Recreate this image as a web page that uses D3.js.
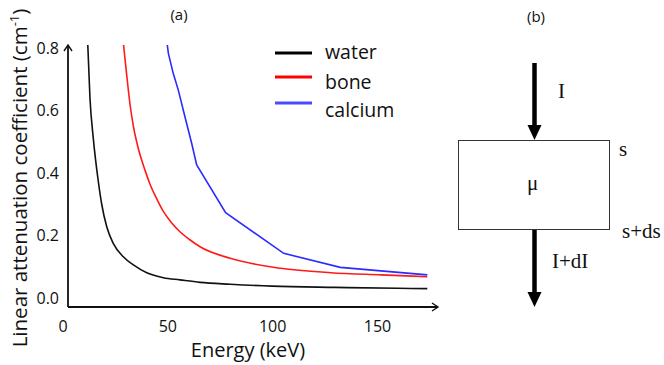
<!DOCTYPE html>
<html>
<head>
<meta charset="utf-8">
<script src="https://cdn.jsdelivr.net/npm/d3@7"></script>
<style>
    body { margin: 0; background: #fff; }
    svg { display: block; }
</style>
</head>
<body>
<svg id="chart" width="664" height="365"></svg>
<script>
// energy (keV) / linear attenuation (cm^-1)
var waterEnergy = [12.0, 13.1, 14.7, 17.1, 18.7, 21.1, 24.2, 29.0, 33.8, 40.2, 48.1, 56, 65.6, 80, 100, 130, 160, 174];
var waterMu = [0.82, 0.64, 0.51, 0.372, 0.30, 0.228, 0.175, 0.132, 0.106, 0.081, 0.065, 0.058, 0.050, 0.044, 0.038, 0.034, 0.031, 0.030];

var boneEnergy = [28.8, 30.6, 32.2, 33.8, 36.1, 39.3, 41.7, 44.9, 48.1, 52.1, 56, 60.4, 65.6, 80, 104, 128, 152, 174];
var boneMu = [0.83, 0.715, 0.62, 0.55, 0.48, 0.41, 0.365, 0.318, 0.277, 0.240, 0.212, 0.188, 0.164, 0.127, 0.095, 0.081, 0.074, 0.068];

var calciumEnergy = [49.6, 50.5, 52.8, 55.2, 58.4, 61.6, 64, 77.8, 105.5, 132.5, 174];
var calciumMu = [0.83, 0.783, 0.719, 0.666, 0.58, 0.495, 0.426, 0.273, 0.143, 0.098, 0.074];

var xTicks = [0, 50, 100, 150];
var yTicks = [0.0, 0.2, 0.4, 0.6, 0.8];
var seriesNames = ['water', 'bone', 'calcium'];

var series = [
    {name: seriesNames[0], color: '#111', legendColor: '#000', energy: waterEnergy, mu: waterMu, curve: d3.curveMonotoneX},
    {name: seriesNames[1], color: '#ff1a1a', legendColor: '#ff0000', energy: boneEnergy, mu: boneMu, curve: d3.curveMonotoneX},
    {name: seriesNames[2], color: '#2b2bff', legendColor: '#4a4aff', energy: calciumEnergy, mu: calciumMu, curve: d3.curveLinear}
];

var svg = d3.select('#chart');
var sans = '"Open Sans", sans-serif';
var serif = '"Liberation Serif", "Times New Roman", serif';

var x = d3.scaleLinear().domain([0, 150]).range([62.5, 377]);
var y = d3.scaleLinear().domain([0, 0.8]).range([298, 48]);

var axisLeftX = 68, axisBottomY = 307, axisTopY = 45, axisRightX = 438;

// clip so the steep starts get cut at the arrow height
svg.append('defs').append('clipPath').attr('id', 'plot-clip')
    .append('rect')
    .attr('x', axisLeftX).attr('y', axisTopY)
    .attr('width', axisRightX - axisLeftX).attr('height', axisBottomY - axisTopY);

// tick labels only, the axis lines are drawn by hand with arrows
var yAxis = svg.append('g')
    .attr('transform', 'translate(59,0)')
    .call(d3.axisLeft(y).tickValues(yTicks).tickSize(0).tickPadding(0)
        .tickFormat(d3.format('.1f')));
yAxis.select('.domain').remove();
yAxis.selectAll('text')
    .attr('font-family', sans).attr('font-size', 16).attr('fill', '#111');

var xAxis = svg.append('g')
    .attr('transform', 'translate(0,' + 321 + ')')
    .call(d3.axisBottom(x).tickValues(xTicks).tickSize(0).tickPadding(0));
xAxis.select('.domain').remove();
xAxis.selectAll('text')
    .attr('font-family', sans).attr('font-size', 16).attr('fill', '#111');

var axisLines = svg.append('g')
    .attr('stroke', '#111').attr('stroke-width', 1.8).attr('fill', 'none');
axisLines.append('path')
    .attr('d', 'M' + axisLeftX + ',' + axisBottomY + 'V' + axisTopY);
axisLines.append('path')
    .attr('d', 'M' + (axisLeftX - 4) + ',' + (axisTopY + 6) + 'L' + axisLeftX + ',' + axisTopY +
        'L' + (axisLeftX + 4) + ',' + (axisTopY + 6))
    .attr('stroke-width', 1.4);
axisLines.append('path')
    .attr('d', 'M' + axisLeftX + ',' + axisBottomY + 'H' + axisRightX);
axisLines.append('path')
    .attr('d', 'M' + (axisRightX - 6) + ',' + (axisBottomY - 4) + 'L' + axisRightX + ',' + axisBottomY +
        'L' + (axisRightX - 6) + ',' + (axisBottomY + 4))
    .attr('stroke-width', 1.4);

// curves
var line = d3.line()
    .x(function(d) { return x(d[0]); })
    .y(function(d) { return y(d[1]); });

svg.append('g')
    .attr('clip-path', 'url(#plot-clip)')
    .selectAll('path')
    .data(series)
    .enter().append('path')
    .attr('fill', 'none')
    .attr('stroke', function(s) { return s.color; })
    .attr('stroke-width', 1.6)
    .attr('d', function(s) {
        var pts = s.energy.map(function(e, i) { return [e, s.mu[i]]; });
        return line.curve(s.curve)(pts);
    });

// legend
var legend = svg.append('g');
var legendY = [53, 77, 103];
var legendTextY = [59, 89, 117];
series.forEach(function(s, i) {
    legend.append('line')
        .attr('x1', 275).attr('x2', 312)
        .attr('y1', legendY[i]).attr('y2', legendY[i])
        .attr('stroke', s.legendColor).attr('stroke-width', 3);
    legend.append('text')
        .attr('x', 325).attr('y', legendTextY[i])
        .attr('font-family', sans).attr('font-size', 19.5).attr('fill', '#111')
        .text(s.name);
});

// axis titles
svg.append('text')
    .attr('x', 248).attr('y', 357)
    .attr('text-anchor', 'middle')
    .attr('font-family', sans).attr('font-size', 20).attr('fill', '#111')
    .text('Energy (keV)');

var yTitle = svg.append('text')
    .attr('transform', 'translate(27,178) rotate(-90)')
    .attr('text-anchor', 'middle')
    .attr('font-family', sans).attr('font-size', 20.5).attr('fill', '#111');
yTitle.append('tspan').text('Linear attenuation coefficient (cm');
yTitle.append('tspan').attr('dy', -8).attr('font-size', 13).text('-1');
yTitle.append('tspan').attr('dy', 8).text(')');

svg.append('text')
    .attr('x', 179).attr('y', 20)
    .attr('text-anchor', 'middle')
    .attr('font-family', sans).attr('font-size', 15).attr('fill', '#111')
    .text('(a)');

// panel (b): slab diagram
var diagram = svg.append('g');
diagram.append('text')
    .attr('x', 536).attr('y', 22)
    .attr('text-anchor', 'middle')
    .attr('font-family', sans).attr('font-size', 15).attr('fill', '#111')
    .text('(b)');

diagram.append('rect')
    .attr('x', 458.5).attr('y', 140.5)
    .attr('width', 151).attr('height', 89)
    .attr('fill', 'none').attr('stroke', '#333').attr('stroke-width', 1);

function arrow(cx, y0, y1) {
    diagram.append('line')
        .attr('x1', cx).attr('x2', cx)
        .attr('y1', y0).attr('y2', y1 - 14)
        .attr('stroke', '#000').attr('stroke-width', 4.5);
    diagram.append('path')
        .attr('d', 'M' + (cx - 7) + ',' + (y1 - 15) + 'L' + (cx + 7) + ',' + (y1 - 15) +
            'L' + cx + ',' + y1 + 'Z')
        .attr('fill', '#000');
}
arrow(534.5, 63, 140);
arrow(534.5, 230, 307);

var labels = [
    {t: 'I', x: 558, y: 98},
    {t: '\u03bc', x: 527, y: 190},
    {t: 's', x: 619, y: 156},
    {t: 's+ds', x: 622, y: 238},
    {t: 'I+dI', x: 552, y: 268}
];
diagram.selectAll('text.lbl')
    .data(labels)
    .enter().append('text')
    .attr('class', 'lbl')
    .attr('x', function(d) { return d.x; })
    .attr('y', function(d) { return d.y; })
    .attr('font-family', serif).attr('font-size', 21).attr('fill', '#111')
    .text(function(d) { return d.t; });
</script>
</body>
</html>
